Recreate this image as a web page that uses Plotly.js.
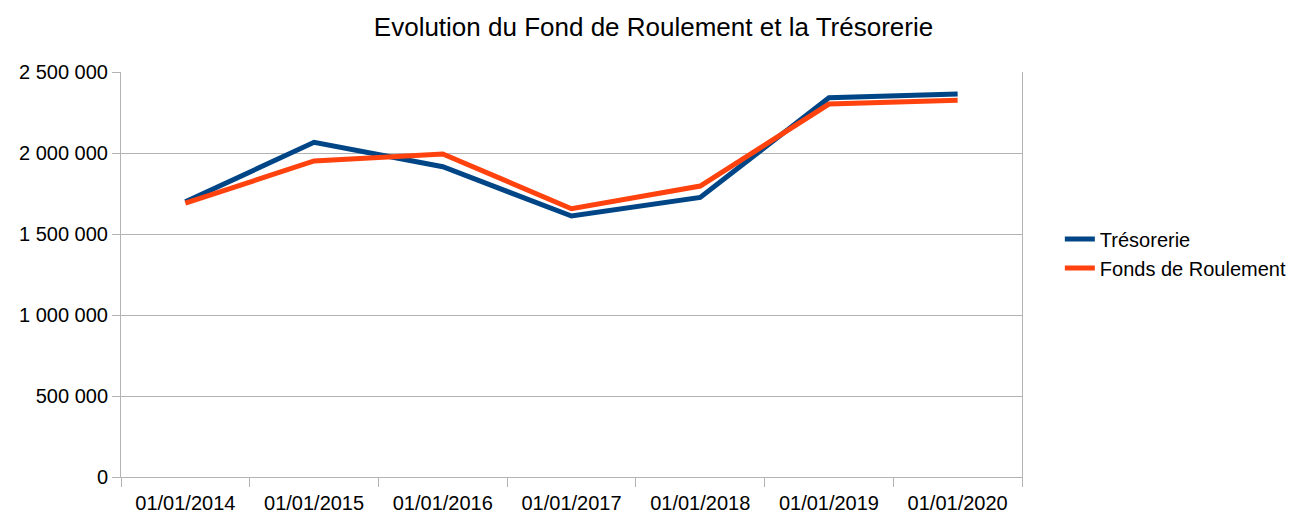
<!DOCTYPE html>
<html>
<head>
<meta charset="utf-8">
<script src="https://cdn.plot.ly/plotly-3.0.1.min.js"></script>
<style>html,body{margin:0;padding:0;background:#fff}#chart{width:1307px;height:515px}</style>
</head>
<body>
<div id="chart"></div>
<script>
const categories = ["01/01/2014","01/01/2015","01/01/2016","01/01/2017","01/01/2018","01/01/2019","01/01/2020"];
const tresorerie = [1699000, 2066000, 1915000, 1611000, 1726000, 2341000, 2364000];
const fondsRoulement = [1690000, 1951000, 1994000, 1656000, 1796000, 2302000, 2325000];
const yTicks = [0, 500000, 1000000, 1500000, 2000000, 2500000];

const font = "Liberation Sans, Arial, sans-serif";
const data = [
  {x: categories, y: tresorerie, type: "scatter", mode: "lines", name: "Trésorerie",
   line: {color: "#004586", width: 5}},
  {x: categories, y: fondsRoulement, type: "scatter", mode: "lines", name: "Fonds de Roulement",
   line: {color: "#ff420e", width: 5}}
];
const layout = {
  width: 1307, height: 515,
  margin: {l: 121, r: 285, t: 72, b: 38},
  paper_bgcolor: "#fff", plot_bgcolor: "#fff",
  separators: ", ",
  font: {family: font, size: 20, color: "#000"},
  title: {text: "Evolution du Fond de Roulement et la Trésorerie", font: {family: font, size: 26, color: "#000"},
          x: 0.5, xref: "container", xanchor: "center", y: 0.948, yanchor: "middle"},
  xaxis: {type: "category", tickson: "boundaries", ticks: "outside", ticklen: 9, tickcolor: "#b3b3b3",
          showline: true, linecolor: "#b3b3b3", showgrid: false, zeroline: false, ticklabelstandoff: 8,
          tickfont: {family: font, size: 20, color: "#000"}, range: [-0.5, 6.5]},
  yaxis: {range: [0, 2500000], tickvals: yTicks, tickformat: ",d", ticks: "outside", ticklen: 8,
          tickcolor: "#b3b3b3", showline: true, linecolor: "#b3b3b3", mirror: true,
          gridcolor: "#b3b3b3", zeroline: false, tickfont: {family: font, size: 20, color: "#000"}},
  showlegend: true,
  legend: {x: 1.042, y: 0.552, xanchor: "left", yanchor: "middle", font: {family: font, size: 20, color: "#000"},
           tracegroupgap: 0, itemwidth: 30}
};
Plotly.newPlot("chart", data, layout, {displayModeBar: false, staticPlot: true});
</script>
</body>
</html>
